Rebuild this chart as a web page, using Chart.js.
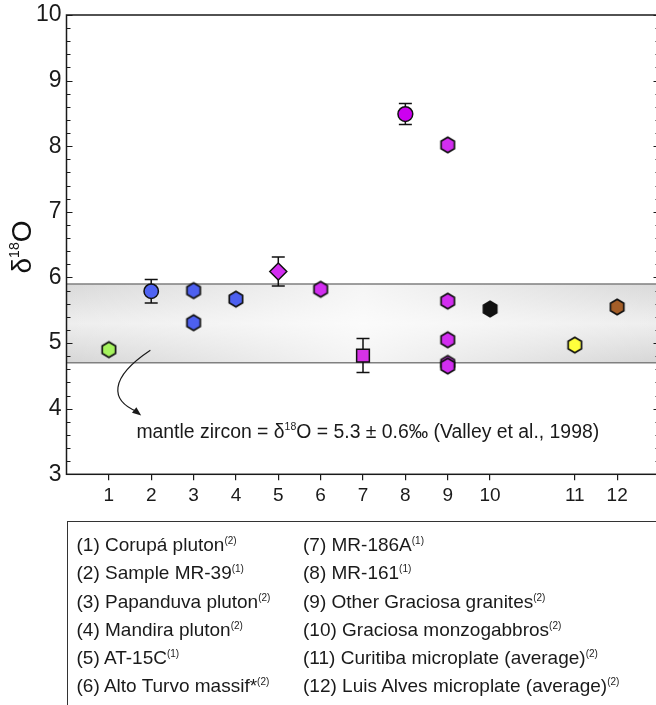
<!DOCTYPE html>
<html>
<head>
<meta charset="utf-8">
<script src="https://cdn.jsdelivr.net/npm/chart.js@4.4.1/dist/chart.umd.min.js"></script>
<style>
  body { margin: 0; background: #fff; }
  #wrap { position: relative; width: 656px; height: 705px; overflow: hidden; }
  #c { position: absolute; left: 0; top: 0; }
  #legendBox {
    position: absolute; left: 67px; top: 521px; width: 640px; height: 230px;
    border: 1.3px solid #333; box-sizing: border-box;
    font-family: "Liberation Sans", Arial, sans-serif; font-size: 19px; color: #1a1a1a;
  }
  .col { position: absolute; top: 9px; line-height: 28.3px; white-space: nowrap; }
  .col sup { font-size: 10px; vertical-align: 7px; line-height: 0; }
</style>
</head>
<body>
<div id="wrap">
  <canvas id="c" width="670" height="705"></canvas>
  <div id="legendBox">
    <div class="col" id="col1" style="left: 8.5px;"></div>
    <div class="col" id="col2" style="left: 235px;"></div>
  </div>
</div>
<script>
// x slots of the groups (11 and 12 leave a gap after 10)
const xSlots = [1, 2, 3, 4, 5, 6, 7, 8, 9, 10, 12, 13];
const xTickLabels = ['1', '2', '3', '4', '5', '6', '7', '8', '9', '10', '11', '12'];
const yMajor = [3, 4, 5, 6, 7, 8, 9, 10];

// d18O values
const corupaY = [4.90];
const mr39Y = [5.79];
const mr39Err = [0.18];
const papanduvaY = [5.80, 5.31];
const mandiraY = [5.67];
const at15cY = [6.09];
const at15cErr = [0.22];
const altoTurvoY = [5.82];
const mr186aY = [4.81];
const mr186aErr = [0.26];
const mr161Y = [8.49];
const mr161Err = [0.16];
const graciosaGranY = [8.02, 5.64, 5.05, 4.69, 4.65];
const monzogabbroY = [5.52];
const curitibaY = [4.97];
const luisAlvesY = [5.55];

// mantle zircon range (Valley et al., 1998)
const bandLow = 4.7;
const bandHigh = 5.9;

const legendNames = [
  '(1) Corupá pluton', '(2) Sample MR-39', '(3) Papanduva pluton', '(4) Mandira pluton',
  '(5) AT-15C', '(6) Alto Turvo massif*', '(7) MR-186A', '(8) MR-161',
  '(9) Other Graciosa granites', '(10) Graciosa monzogabbros',
  '(11) Curitiba microplate (average)', '(12) Luis Alves microplate (average)'
];
const legendRefs = ['(2)', '(1)', '(2)', '(2)', '(1)', '(2)', '(1)', '(1)', '(2)', '(2)', '(2)', '(2)'];

const FONT = '"Liberation Sans", Arial, sans-serif';

// legend box text
legendNames.forEach((name, i) => {
  const col = document.getElementById(i < 6 ? 'col1' : 'col2');
  const line = document.createElement('div');
  line.innerHTML = name + '<sup>' + legendRefs[i] + '</sup>';
  col.appendChild(line);
});

// hexagon marker (pointy top)
function hexImage(fill) {
  const c = document.createElement('canvas');
  c.width = 18; c.height = 20;
  const g = c.getContext('2d');
  const r = 7.7;
  g.beginPath();
  for (let i = 0; i < 6; i++) {
    const a = Math.PI / 2 + i * Math.PI / 3;
    const px = 9 + r * Math.cos(a), py = 10 + r * Math.sin(a);
    if (i === 0) g.moveTo(px, py); else g.lineTo(px, py);
  }
  g.closePath();
  g.fillStyle = fill;
  g.fill();
  g.lineWidth = 1.7;
  g.strokeStyle = '#111';
  g.stroke();
  return c;
}

function series(slot, ys, style, color, radius, errs) {
  return {
    data: ys.map(v => ({ x: xSlots[slot - 1], y: v })),
    pointStyle: style,
    pointRadius: radius,
    pointBackgroundColor: color,
    pointBorderColor: '#111',
    pointBorderWidth: 1.5,
    errors: errs || null,
    showLine: false
  };
}

const datasets = [
  series(1, corupaY, hexImage('#a6f35e'), '#a6f35e', 8),
  series(2, mr39Y, 'circle', '#4f63f2', 7.2, mr39Err),
  series(3, papanduvaY, hexImage('#4d60f0'), '#4d60f0', 8),
  series(4, mandiraY, hexImage('#4d60f0'), '#4d60f0', 8),
  series(5, at15cY, 'rectRot', '#d22ef0', 8.5, at15cErr),
  series(6, altoTurvoY, hexImage('#d22ef0'), '#d22ef0', 8),
  series(7, mr186aY, 'rect', '#d632e6', 9, mr186aErr),
  series(8, mr161Y, 'circle', '#cc00f0', 7.4, mr161Err),
  series(9, graciosaGranY, hexImage('#d22ef0'), '#d22ef0', 8),
  series(10, monzogabbroY, hexImage('#111111'), '#111111', 8),
  series(11, curitibaY, hexImage('#ffff3c'), '#ffff3c', 8),
  series(12, luisAlvesY, hexImage('#a45e28'), '#a45e28', 8)
];

const decor = {
  id: 'decor',
  beforeDatasetsDraw(chart) {
    const { ctx, chartArea: a, scales: { x, y } } = chart;
    const top = y.getPixelForValue(bandHigh), bot = y.getPixelForValue(bandLow);
    ctx.save();
    // grey band with lighter middle
    const gv = ctx.createLinearGradient(0, top, 0, bot);
    gv.addColorStop(0, '#d9d9d9');
    gv.addColorStop(0.5, '#eeeeee');
    gv.addColorStop(1, '#d6d6d6');
    ctx.fillStyle = gv;
    ctx.fillRect(a.left, top, a.right - a.left, bot - top);
    const gh = ctx.createLinearGradient(a.left, 0, a.right, 0);
    gh.addColorStop(0, 'rgba(255,255,255,0)');
    gh.addColorStop(0.5, 'rgba(255,255,255,0.75)');
    gh.addColorStop(1, 'rgba(255,255,255,0)');
    ctx.fillStyle = gh;
    ctx.fillRect(a.left, top, a.right - a.left, bot - top);
    ctx.strokeStyle = '#808080';
    ctx.lineWidth = 1.3;
    ctx.beginPath();
    ctx.moveTo(a.left, top); ctx.lineTo(a.right, top);
    ctx.moveTo(a.left, bot); ctx.lineTo(a.right, bot);
    ctx.stroke();

    // error bars
    ctx.strokeStyle = '#111';
    ctx.lineWidth = 1.5;
    chart.data.datasets.forEach(ds => {
      if (!ds.errors) return;
      ds.data.forEach((p, i) => {
        const px = x.getPixelForValue(p.x);
        const hi = y.getPixelForValue(p.y + ds.errors[i]);
        const lo = y.getPixelForValue(p.y - ds.errors[i]);
        ctx.beginPath();
        ctx.moveTo(px, hi); ctx.lineTo(px, lo);
        ctx.moveTo(px - 6.5, hi); ctx.lineTo(px + 6.5, hi);
        ctx.moveTo(px - 6.5, lo); ctx.lineTo(px + 6.5, lo);
        ctx.stroke();
      });
    });
    ctx.restore();
  },
  afterDraw(chart) {
    const { ctx, chartArea: a, scales: { x, y } } = chart;
    ctx.save();
    // frame
    ctx.strokeStyle = '#1a1a1a';
    ctx.lineWidth = 1.5;
    ctx.strokeRect(a.left, a.top, a.right - a.left, a.bottom - a.top);

    // inner ticks on left and right
    ctx.lineWidth = 1.2;
    ctx.beginPath();
    y.ticks.forEach(t => {
      const py = Math.round(y.getPixelForValue(t.value)) + 0.5;
      const len = yMajor.some(m => Math.abs(m - t.value) < 1e-6) ? 6 : 4;
      ctx.moveTo(a.left, py); ctx.lineTo(a.left + len, py);
      ctx.moveTo(a.right, py); ctx.lineTo(a.right - len, py);
    });
    ctx.stroke();

    // y axis title: δ18O
    ctx.fillStyle = '#111';
    ctx.translate(22, 247);
    ctx.rotate(-Math.PI / 2);
    ctx.textBaseline = 'middle';
    ctx.font = '28px ' + FONT;
    const wD = ctx.measureText('δ').width;
    const wO = ctx.measureText('O').width;
    ctx.font = '14px ' + FONT;
    const w18 = ctx.measureText('18').width;
    let cx = -(wD + w18 + wO) / 2;
    ctx.font = '28px ' + FONT;
    ctx.fillText('δ', cx, 1); cx += wD;
    ctx.font = '14px ' + FONT;
    ctx.fillText('18', cx, -7); cx += w18;
    ctx.font = '28px ' + FONT;
    ctx.fillText('O', cx, 1);
    ctx.setTransform(1, 0, 0, 1, 0, 0);

    // annotation text
    const tx = x.getPixelForValue(1.65), ty = y.getPixelForValue(3.56);
    ctx.fillStyle = '#1a1a1a';
    ctx.textBaseline = 'alphabetic';
    const parts = [['mantle zircon = δ', 19.4, 0], ['18', 10.5, -8], ['O = 5.3 ± 0.6‰ (Valley et al., 1998)', 19.4, 0]];
    let ax = tx;
    parts.forEach(([s, size, dy]) => {
      ctx.font = size + 'px ' + FONT;
      ctx.fillText(s, ax, ty + dy);
      ax += ctx.measureText(s).width;
    });

    // curved arrow from the band to the text
    const x0 = x.getPixelForValue(1.98), y0 = y.getPixelForValue(4.89);
    const x1 = x.getPixelForValue(1.74), y1 = y.getPixelForValue(3.91);
    ctx.strokeStyle = '#1a1a1a';
    ctx.lineWidth = 1.2;
    ctx.beginPath();
    ctx.moveTo(x0, y0);
    ctx.bezierCurveTo(x0 - 42, y0 + 28, x0 - 40, y1 - 14, x1 - 3, y1 - 3);
    ctx.stroke();
    const ang = Math.atan2(12, 15);
    ctx.beginPath();
    ctx.moveTo(x1 + 1, y1 + 1);
    ctx.lineTo(x1 + 1 - 9 * Math.cos(ang) + 3.5 * Math.sin(ang), y1 + 1 - 9 * Math.sin(ang) - 3.5 * Math.cos(ang));
    ctx.lineTo(x1 + 1 - 9 * Math.cos(ang) - 3.5 * Math.sin(ang), y1 + 1 - 9 * Math.sin(ang) + 3.5 * Math.cos(ang));
    ctx.closePath();
    ctx.fillStyle = '#1a1a1a';
    ctx.fill();
    ctx.restore();
  }
};

new Chart(document.getElementById('c'), {
  type: 'scatter',
  data: { datasets: datasets },
  plugins: [decor],
  options: {
    responsive: false,
    animation: false,
    layout: { padding: { left: 0, top: 15, right: 2, bottom: 190.7 } },
    plugins: { legend: { display: false }, tooltip: { enabled: false } },
    scales: {
      x: {
        type: 'linear', min: 0, max: 14,
        afterBuildTicks: s => { s.ticks = xSlots.map(v => ({ value: v })); },
        afterFit: s => { s.height = 40; s.paddingLeft = 0; s.paddingRight = 0; },
        ticks: {
          autoSkip: false, maxRotation: 0, padding: 4, color: '#1a1a1a',
          font: { family: FONT, size: 19 },
          callback: v => xTickLabels[xSlots.indexOf(v)]
        },
        grid: { display: true, drawOnChartArea: false, drawTicks: true, tickLength: 6, color: '#1a1a1a', lineWidth: 1.2 },
        border: { display: false }
      },
      y: {
        min: 3, max: 10,
        afterFit: s => { s.width = 66.5; s.paddingTop = 0; s.paddingBottom = 0; },
        ticks: {
          stepSize: 0.2, autoSkip: false, padding: 5, color: '#1a1a1a',
          font: { family: FONT, size: 23 },
          callback: v => {
            const m = yMajor.find(t => Math.abs(t - v) < 1e-6);
            return m === undefined ? '' : String(m);
          }
        },
        grid: { display: false, drawTicks: false },
        border: { display: false }
      }
    }
  }
});
</script>
</body>
</html>
